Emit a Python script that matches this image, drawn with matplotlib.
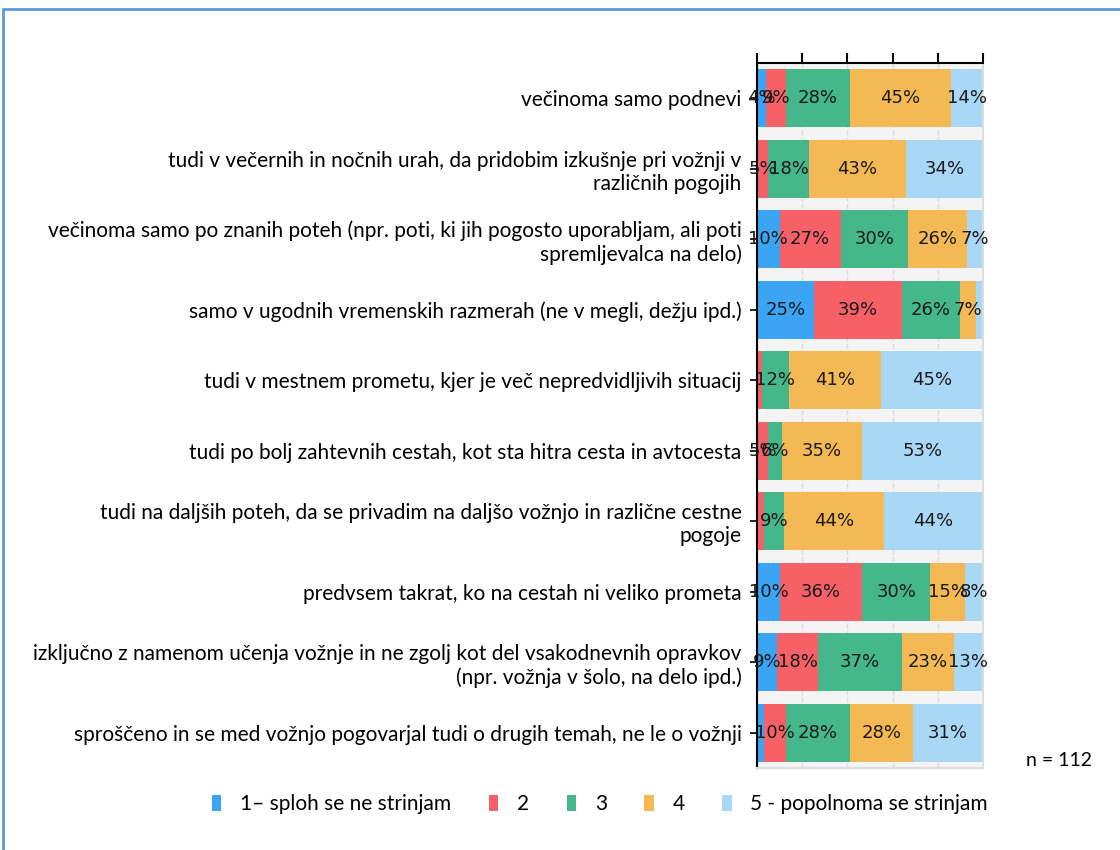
import numpy as np
import matplotlib
matplotlib.use("Agg")
import matplotlib.pyplot as plt
from matplotlib.patches import Rectangle, Patch

# Survey statements (top to bottom)
categories = [
    "večinoma samo podnevi",
    "tudi v večernih in nočnih urah, da pridobim izkušnje pri vožnji v\nrazličnih pogojih",
    "večinoma samo po znanih poteh (npr. poti, ki jih pogosto uporabljam, ali poti\nspremljevalca na delo)",
    "samo v ugodnih vremenskih razmerah (ne v megli, dežju ipd.)",
    "tudi v mestnem prometu, kjer je več nepredvidljivih situacij",
    "tudi po bolj zahtevnih cestah, kot sta hitra cesta in avtocesta",
    "tudi na daljših poteh, da se privadim na daljšo vožnjo in različne cestne\npogoje",
    "predvsem takrat, ko na cestah ni veliko prometa",
    "izključno z namenom učenja vožnje in ne zgolj kot del vsakodnevnih opravkov\n(npr. vožnja v šolo, na delo ipd.)",
    "sproščeno in se med vožnjo pogovarjal tudi o drugih temah, ne le o vožnji",
]

# percentages per answer (1..5), same order as categories
ans1 = [4, 0, 10, 25, 0, 0, 0, 10, 9, 3]
ans2 = [9, 5, 27, 39, 2, 5, 3, 36, 18, 10]
ans3 = [28, 18, 30, 26, 12, 6, 9, 30, 37, 28]
ans4 = [45, 43, 26, 7, 41, 35, 44, 15, 23, 28]
ans5 = [14, 34, 7, 3, 45, 53, 44, 8, 13, 31]

series_names = ["1– sploh se ne strinjam", "2", "3", "4", "5 - popolnoma se strinjam"]
colors = ["#3ba5f3", "#f66168", "#46b68b", "#f4b955", "#a9d8f6"]
n_label = "n = 112"

data = np.array([ans1, ans2, ans3, ans4, ans5], dtype=float)
shares = data / data.sum(axis=0) * 100  # 100% stacked

fig = plt.figure(figsize=(11.2, 8.5), dpi=100)
ax = fig.add_axes([757 / 1120, 1 - 768 / 850, 226 / 1120, (768 - 63) / 850])

y = np.arange(len(categories))
left = np.zeros(len(categories))
for i in range(5):
    ax.barh(y, shares[i], left=left, height=0.82, color=colors[i], zorder=2)
    for j in range(len(categories)):
        if data[i, j] >= 4:
            ax.text(left[j] + shares[i, j] / 2, y[j], f"{int(data[i, j])}%",
                    ha="center", va="center", fontsize=13, color="#1a1a1a", zorder=4,
                    family="DejaVu Sans")
    left += shares[i]

ax.set_xlim(0, 100)
ax.set_ylim(len(categories) - 0.5, -0.5)
ax.set_facecolor("#f4f4f4")
ax.set_xticks(np.arange(0, 101, 20))
ax.xaxis.tick_top()
ax.tick_params(axis="x", which="both", direction="out", length=7, width=1.5,
               labeltop=False, labelbottom=False, color="black")
ax.grid(axis="x", color="#dcdcdc", linestyle="--", linewidth=1, zorder=1)
ax.set_axisbelow(True)

ax.set_yticks(y)
ax.set_yticklabels(categories, fontsize=15, family="Lato", linespacing=1.2)
ax.tick_params(axis="y", length=5, width=1.2, color="black", pad=6)

ax.spines["top"].set_linewidth(1.5)
ax.spines["left"].set_linewidth(1.5)
ax.spines["right"].set_color("#dddddd")
ax.spines["bottom"].set_color("#dddddd")
ax.spines["right"].set_linewidth(1.5)
ax.spines["bottom"].set_linewidth(1.5)

fig.text(1092 / 1120, 1 - 760 / 850, n_label, ha="right", va="center",
         fontsize=14, family="Lato")

handles = [Patch(facecolor=c, edgecolor="none") for c in colors]
fig.legend(handles, series_names, loc="center", bbox_to_anchor=(600 / 1120, 1 - 804 / 850),
           ncol=5, frameon=False, prop={"family": "Lato", "size": 15},
           handlelength=0.45, handleheight=0.8, handletextpad=0.9, columnspacing=1.8)

# outer frame line
fig.patches.append(Rectangle((3 / 1120, -0.1), 1.2, 1 - 9 / 850 + 0.1,
                             transform=fig.transFigure, fill=False,
                             edgecolor="#5b9bd5", linewidth=2))

fig.savefig("out.png", dpi=100)
